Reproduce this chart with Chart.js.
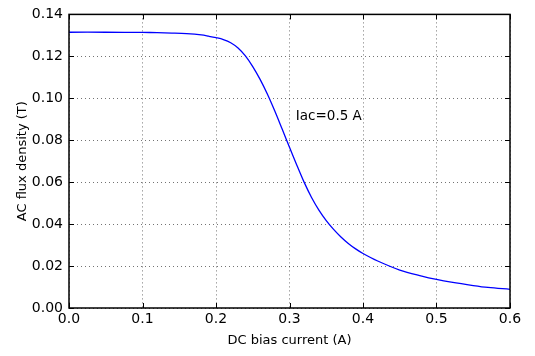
<!DOCTYPE html>
<html>
<head>
<meta charset="utf-8">
<script src="https://cdn.jsdelivr.net/npm/chart.js@4.4.1/dist/chart.umd.min.js"></script>
<style>
  html, body { margin: 0; padding: 0; background: #fff; }
  #wrap { width: 535px; height: 356px; }
</style>
</head>
<body>
<div id="wrap"><canvas id="c" width="535" height="356"></canvas></div>
<script>
// DC bias current (A) and the AC flux density (T)
const biasCurrent = [
  0.00, 0.05, 0.10, 0.12, 0.14, 0.16, 0.18, 0.19,
  0.20, 0.21, 0.22, 0.23, 0.24, 0.25, 0.26, 0.27, 0.28, 0.29,
  0.30, 0.31, 0.32, 0.33, 0.34, 0.35, 0.36, 0.37, 0.38, 0.39,
  0.40, 0.42, 0.45, 0.48, 0.50, 0.52, 0.55, 0.57, 0.60
];
const fluxDensity = [
  0.1315, 0.1315, 0.1314, 0.1313, 0.1311, 0.1308, 0.1302, 0.1296,
  0.1289, 0.1280, 0.1265, 0.1240, 0.1202, 0.1151, 0.1090, 0.1019, 0.0939, 0.0853,
  0.0766, 0.0681, 0.0599, 0.0527, 0.0467, 0.0417, 0.0375, 0.0339, 0.0308, 0.0282,
  0.0260, 0.0224, 0.0181, 0.0152, 0.0136, 0.0123, 0.0107, 0.0098, 0.0089
];
const xTickStep = 0.1;
const yTickStep = 0.02;
const xLabel = "DC bias current (A)";
const yLabel = "AC flux density (T)";
const note = { text: "Iac=0.5 A", x: 0.31, y: 0.0915 };

const FONT = "'DejaVu Sans', sans-serif";

// black frame with inward ticks on all four sides, plus the text note
const framePlugin = {
  id: "frame",
  afterDatasetsDraw(chart) {
    const { ctx, chartArea: a, scales } = chart;
    ctx.save();
    ctx.strokeStyle = "#000";
    ctx.lineWidth = 1;
    ctx.beginPath();
    for (const t of scales.x.ticks) {
      const px = Math.round(scales.x.getPixelForValue(t.value)) + 0.5;
      ctx.moveTo(px, a.bottom); ctx.lineTo(px, a.bottom - 5);
      ctx.moveTo(px, a.top); ctx.lineTo(px, a.top + 5);
    }
    for (const t of scales.y.ticks) {
      const py = Math.round(scales.y.getPixelForValue(t.value)) + 0.5;
      ctx.moveTo(a.left, py); ctx.lineTo(a.left + 5, py);
      ctx.moveTo(a.right, py); ctx.lineTo(a.right - 5, py);
    }
    ctx.stroke();
    ctx.lineWidth = 1.5;
    ctx.strokeRect(a.left, a.top, a.right - a.left, a.bottom - a.top);

    ctx.fillStyle = "#000";
    ctx.font = "13.5px " + FONT;
    ctx.textAlign = "left";
    ctx.textBaseline = "middle";
    ctx.fillText(note.text, scales.x.getPixelForValue(note.x) - 1, scales.y.getPixelForValue(note.y));
    ctx.restore();
  }
};

new Chart(document.getElementById("c"), {
  type: "line",
  data: {
    datasets: [{
      data: biasCurrent.map((x, i) => ({ x, y: fluxDensity[i] })),
      borderColor: "#0000ff",
      borderWidth: 1.3,
      pointRadius: 0,
      tension: 0.35,
      fill: false
    }]
  },
  options: {
    responsive: false,
    animation: false,
    layout: { padding: { top: 13, right: 25, left: 0, bottom: 0 } },
    plugins: { legend: { display: false }, tooltip: { enabled: false } },
    scales: {
      x: {
        type: "linear",
        min: 0, max: 0.6,
        ticks: {
          stepSize: xTickStep,
          color: "#000",
          font: { family: FONT, size: 14 },
          padding: 3,
          maxRotation: 0,
          callback: (v) => v.toFixed(1)
        },
        grid: { color: "rgba(0,0,0,0.55)", lineWidth: 1, drawTicks: false },
        border: { display: false, dash: [1, 3] },
        title: { display: true, text: xLabel, color: "#000", font: { family: FONT, size: 13 }, padding: { top: 4, bottom: 8 } },
        afterFit(s) { s.height = 48; }
      },
      y: {
        min: 0, max: 0.14,
        ticks: {
          stepSize: yTickStep,
          color: "#000",
          font: { family: FONT, size: 14 },
          padding: 6,
          callback: (v) => v.toFixed(2)
        },
        grid: { color: "rgba(0,0,0,0.55)", lineWidth: 1, drawTicks: false },
        border: { display: false, dash: [1, 3] },
        title: { display: true, text: yLabel, color: "#000", font: { family: FONT, size: 13 }, padding: { top: 15, bottom: 0 } },
        afterFit(s) { s.width = 69; }
      }
    }
  },
  plugins: [framePlugin]
});
</script>
</body>
</html>
